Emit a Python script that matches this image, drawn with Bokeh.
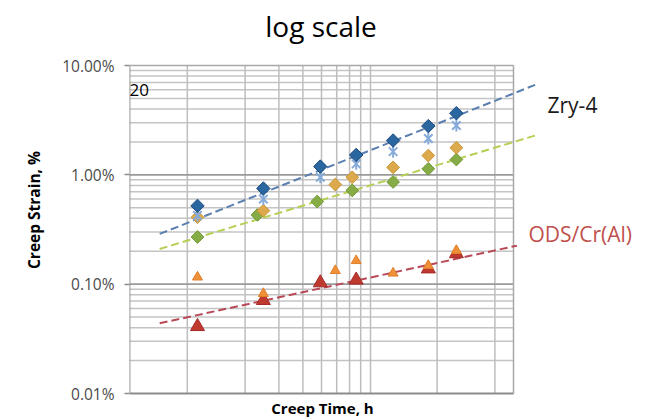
import math
from bokeh.plotting import figure
from bokeh.models import Range1d, FixedTicker, CustomJSTickFormatter, Label
from bokeh.embed import file_html
from bokeh.resources import INLINE

# ---------------- data (creep time in h, creep strain in %) ----------------
zry_time = [11.3, 24.9, 49.3, 75.8, 118, 180, 252]
zry_a = [0.52, 0.75, 1.19, 1.52, 2.06, 2.79, 3.66]
zry_b = [0.425, 0.60, 0.95, 1.26, 1.63, 2.15, 2.83]

gold_time = [11.3, 24.9, 59.0, 72.3, 118, 180, 252]
gold_vals = [0.41, 0.47, 0.815, 0.95, 1.17, 1.50, 1.77]

green_time = [11.3, 23.2, 47.5, 72.3, 118, 180, 252]
green_vals = [0.27, 0.43, 0.57, 0.72, 0.86, 1.135, 1.38]

ods_a_time = [11.3, 24.9, 59.0, 75.8, 118, 180, 252]
ods_a = [0.116, 0.082, 0.133, 0.164, 0.126, 0.148, 0.203]

ods_b_time = [11.3, 24.9, 49.3, 75.8, 180, 252]
ods_b = [0.041, 0.071, 0.103, 0.109, 0.138, 0.19]

trend_time = [7.18, 649]
trend_zry = [0.288, 6.66]
trend_green = [0.21, 2.29]
trend_ods_time = [7.18, 521]
trend_ods = [0.0439, 0.225]

y_major = [0.01, 0.1, 1, 10]
y_minor = [m * d for d in (0.01, 0.1, 1) for m in range(2, 10)]
x_grid = [10, 20, 30, 40, 50, 60, 70, 80, 90, 200, 400]
x_lo, x_hi = 5, 500
y_lo, y_hi = 0.01, 10

# ---------------- layout helpers (canvas pixel -> data) ----------------
W, H = 654, 419
LEFT_PX, TOP_PX, BOT_PX = 129, 65, 393
DEC_X = 192.0
DEC_Y = (BOT_PX - TOP_PX) / 3.0


def px_x(px):
    return x_lo * 10 ** ((px - LEFT_PX) / DEC_X)


def px_y(py):
    return y_hi * 10 ** (-(py - TOP_PX) / DEC_Y)


p = figure(width=W, height=H, output_backend="svg", toolbar_location=None,
           x_axis_type="log", y_axis_type="log", x_axis_location=None,
           x_range=Range1d(x_lo, px_x(W)), y_range=Range1d(px_y(H), px_y(0)),
           min_border_left=LEFT_PX, min_border_right=0,
           min_border_top=0, min_border_bottom=0,
           background_fill_color="white", border_fill_color="white")
p.outline_line_color = None
p.xgrid.visible = False
p.ygrid.visible = False

ax = p.yaxis[0]
ax.ticker = FixedTicker(ticks=y_major, minor_ticks=[])
ax.formatter = CustomJSTickFormatter(code="return tick.toFixed(2) + '%';")
ax.axis_line_color = None
ax.major_tick_line_color = "#8c8c8c"
ax.major_tick_line_width = 1.5
ax.major_tick_out = 5
ax.major_tick_in = 0
ax.minor_tick_out = 0
ax.minor_tick_in = 0
ax.major_label_text_font = "Open Sans"
ax.major_label_text_font_size = "15.5px"
ax.major_label_text_color = "#4a4a4a"
ax.major_label_standoff = 10
ax.axis_label = "Creep Strain, %"
ax.axis_label_text_font = "Open Sans"
ax.axis_label_text_font_style = "bold"
ax.axis_label_text_font_size = "15.5px"
ax.axis_label_text_color = "#000000"
ax.axis_label_standoff = 14

# ---------------- grid drawn inside the chart box only ----------------
p.segment(x0=[x_lo] * len(y_minor), x1=[x_hi] * len(y_minor), y0=y_minor, y1=y_minor,
          line_color="#c4c4c4", line_width=1.5)
p.segment(x0=x_grid, x1=x_grid, y0=[y_lo] * len(x_grid), y1=[y_hi] * len(x_grid),
          line_color="#bdbdbd", line_width=1.5)
p.segment(x0=[x_lo, x_lo], x1=[x_hi, x_hi], y0=[0.1, 1], y1=[0.1, 1],
          line_color="#9a9a9a", line_width=1.8)
p.segment(x0=[x_lo, x_hi], x1=[x_hi, x_hi], y0=[y_hi, y_lo], y1=[y_hi, y_hi],
          line_color="#a8a8a8", line_width=1.5)
p.segment(x0=[x_lo, x_lo], x1=[x_hi, x_lo], y0=[y_lo, y_lo], y1=[y_lo, y_hi],
          line_color="#8c8c8c", line_width=1.8)

# ---------------- trend lines ----------------
p.line(trend_time, trend_zry, line_color="#5a7fb0", line_width=2, line_dash="8 4")
p.line(trend_time, trend_green, line_color="#b6cf55", line_width=2, line_dash="8 4")
p.line(trend_ods_time, trend_ods, line_color="#b84a58", line_width=2, line_dash="8 4")

# ---------------- markers ----------------
rot = math.pi / 4
p.scatter(ods_b_time, ods_b, marker="triangle", size=14, fill_color="#c0392f",
          line_color="#a52a2a")
p.scatter(ods_a_time, ods_a, marker="triangle", size=10, fill_color="#f0913a",
          line_color="#e07f28")
p.scatter(green_time, green_vals, marker="square", angle=rot, size=9,
          fill_color="#86ad45", line_color="#6f9634")
p.scatter(gold_time, gold_vals, marker="square", angle=rot, size=9,
          fill_color="#dcaa4c", line_color="#c99432")
p.scatter(zry_time, zry_b, marker="x", size=12, line_color="#86abd9", line_width=2)
p.scatter(zry_time, zry_b, marker="dash", angle=math.pi / 2, size=12,
          line_color="#86abd9", line_width=2)
p.scatter(zry_time, zry_a, marker="square", angle=rot, size=9.5,
          fill_color="#2a66a0", line_color="#1b4a7c")

# ---------------- texts ----------------
def add_label(text, px, py, size, align="left", color="#000000", style="normal"):
    p.add_layout(Label(x=px_x(px), y=px_y(py), text=text, text_align=align,
                       text_baseline="middle", text_font="Open Sans",
                       text_font_size=size, text_color=color,
                       text_font_style=style))


add_label("log scale", 320.5, 25, "28px", align="center")
add_label("Zry-4", 547, 104, "21px", color="#1a1a1a")
add_label("ODS/Cr(Al)", 528, 233, "21px", color="#c0504d")
add_label("20", 129, 89, "17px")
add_label("Creep Time, h", 322, 407, "15px", align="center", style="bold")

open("out.html", "w").write(file_html(p, INLINE))
